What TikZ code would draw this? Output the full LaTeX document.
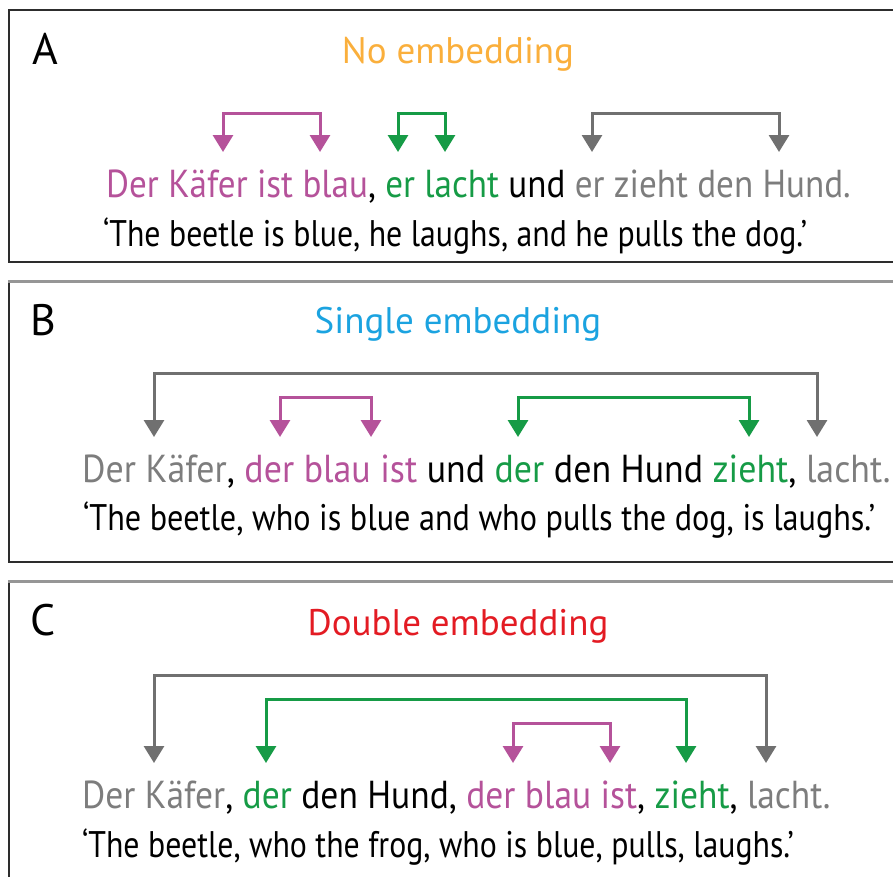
\documentclass[tikz,border=0pt]{standalone}
\usepackage{fontspec}
\setmainfont{PT Sans}
\newfontfamily\sentfont[FakeStretch=0.9]{PT Sans}
\newfontfamily\sentfontB[FakeStretch=0.92]{PT Sans}
\newfontfamily\sentfontC[FakeStretch=0.91]{PT Sans}
\newfontfamily\glossfont[FakeStretch=0.87]{PT Sans}
\newfontfamily\glossfontAC[FakeStretch=0.86]{PT Sans}
\usetikzlibrary{arrows.meta}
\definecolor{cmag}{RGB}{181,82,154}
\definecolor{cgrn}{RGB}{22,155,70}
\definecolor{cgry}{RGB}{125,125,125}
\definecolor{carrgry}{RGB}{112,112,112}
\definecolor{corange}{RGB}{250,175,60}
\definecolor{cblue}{RGB}{27,163,224}
\definecolor{cred}{RGB}{227,27,35}
\definecolor{cbox}{RGB}{45,45,45}
\definecolor{ctop}{RGB}{150,150,150}
\newcommand{\mg}[1]{\textcolor{cmag}{#1}}
\newcommand{\gn}[1]{\textcolor{cgrn}{#1}}
\newcommand{\gy}[1]{\textcolor{cgry}{#1}}
\tikzset{
  boxline/.style={draw=cbox, line width=2pt},
  topline/.style={draw=ctop, line width=3pt},
  bracket/.style={line width=3pt, line join=miter,
    {Triangle[width=20pt,length=17pt]}-{Triangle[width=20pt,length=17pt]}},
  sent/.style={anchor=base west, inner sep=0pt, font=\sentfont\fontsize{39}{44}\selectfont},
  gloss/.style={anchor=base west, inner sep=0pt, font=\glossfont\fontsize{37}{40}\selectfont, text=black},
  title/.style={anchor=base, inner sep=0pt, font=\fontsize{37}{40}\selectfont},
  panel/.style={anchor=base west, inner sep=0pt, font=\fontsize{44}{48}\selectfont, text=black}
}
\begin{document}
\begin{tikzpicture}[x=1pt,y=-1pt]
\useasboundingbox (0,0) rectangle (893,876);
\clip (0,0) rectangle (893,876);
% panel frames
\draw[boxline] (910,262) -- (9,262) -- (9,10) -- (910,10);
\draw[boxline] (910,562) -- (9,562) -- (9,281);
\draw[topline] (8,281) -- (910,281);
\draw[boxline] (9,900) -- (9,581);
\draw[topline] (8,581) -- (910,581);

% ---------- Panel A ----------
\node[panel] (labA) at (32,64) {A};
\node[title, text=corange] (titA) at (458,63) {No embedding};
\node[sent] (senA) at (106,197) {\mg{Der Käfer ist blau}, \gn{er lacht} und \gy{er zieht den Hund.}};
\node[gloss, font=\glossfontAC\fontsize{37}{40}\selectfont] (glA) at (103,246) {‘The beetle is blue, he laughs, and he pulls the dog.’};
\coordinate (aML) at (223,152); \coordinate (aMT) at (271,113); \coordinate (aMR) at (320,152);
\coordinate (aGL) at (398,152); \coordinate (aGT) at (421,113); \coordinate (aGR) at (445,152);
\coordinate (aYL) at (592,152); \coordinate (aYT) at (685,113); \coordinate (aYR) at (779,152);
\draw[bracket, cmag] (aML) |- (aMT) -| (aMR);
\draw[bracket, cgrn] (aGL) |- (aGT) -| (aGR);
\draw[bracket, carrgry] (aYL) |- (aYT) -| (aYR);

% ---------- Panel B ----------
\node[panel] (labB) at (30,335) {B};
\node[title, text=cblue] (titB) at (458,333) {Single embedding};
\node[sent, font=\sentfontB\fontsize{39}{44}\selectfont] (senB) at (82,482) {\gy{Der Käfer}, \mg{der blau ist} und \gn{der} den Hund \gn{zieht}, \gy{lacht.}};
\node[gloss] (glB) at (83,530) {‘The beetle, who is blue and who pulls the dog, is laughs.’};
\coordinate (bYL) at (154,437); \coordinate (bYT) at (485,373); \coordinate (bYR) at (817,437);
\coordinate (bML) at (280,437); \coordinate (bMT) at (325,397); \coordinate (bMR) at (371,437);
\coordinate (bGL) at (518,437); \coordinate (bGT) at (633,397); \coordinate (bGR) at (749,437);
\draw[bracket, carrgry] (bYL) |- (bYT) -| (bYR);
\draw[bracket, cmag] (bML) |- (bMT) -| (bMR);
\draw[bracket, cgrn] (bGL) |- (bGT) -| (bGR);

% ---------- Panel C ----------
\node[panel] (labC) at (30,635) {C};
\node[title, text=cred] (titC) at (458,635) {Double embedding};
\node[sent, font=\sentfontC\fontsize{39}{44}\selectfont] (senC) at (82,808) {\gy{Der Käfer}, \gn{der} den Hund, \mg{der blau ist}, \gn{zieht}, \gy{lacht.}};
\node[gloss, font=\glossfontAC\fontsize{37}{40}\selectfont] (glC) at (82,857) {‘The beetle, who the frog, who is blue, pulls, laughs.’};
\coordinate (cYL) at (154,763); \coordinate (cYT) at (460,675); \coordinate (cYR) at (766,763);
\coordinate (cGL) at (266,763); \coordinate (cGT) at (476,699); \coordinate (cGR) at (686,763);
\coordinate (cML) at (513,763); \coordinate (cMT) at (561,723); \coordinate (cMR) at (610,763);
\draw[bracket, carrgry] (cYL) |- (cYT) -| (cYR);
\draw[bracket, cgrn] (cGL) |- (cGT) -| (cGR);
\draw[bracket, cmag] (cML) |- (cMT) -| (cMR);
\end{tikzpicture}
\end{document}
